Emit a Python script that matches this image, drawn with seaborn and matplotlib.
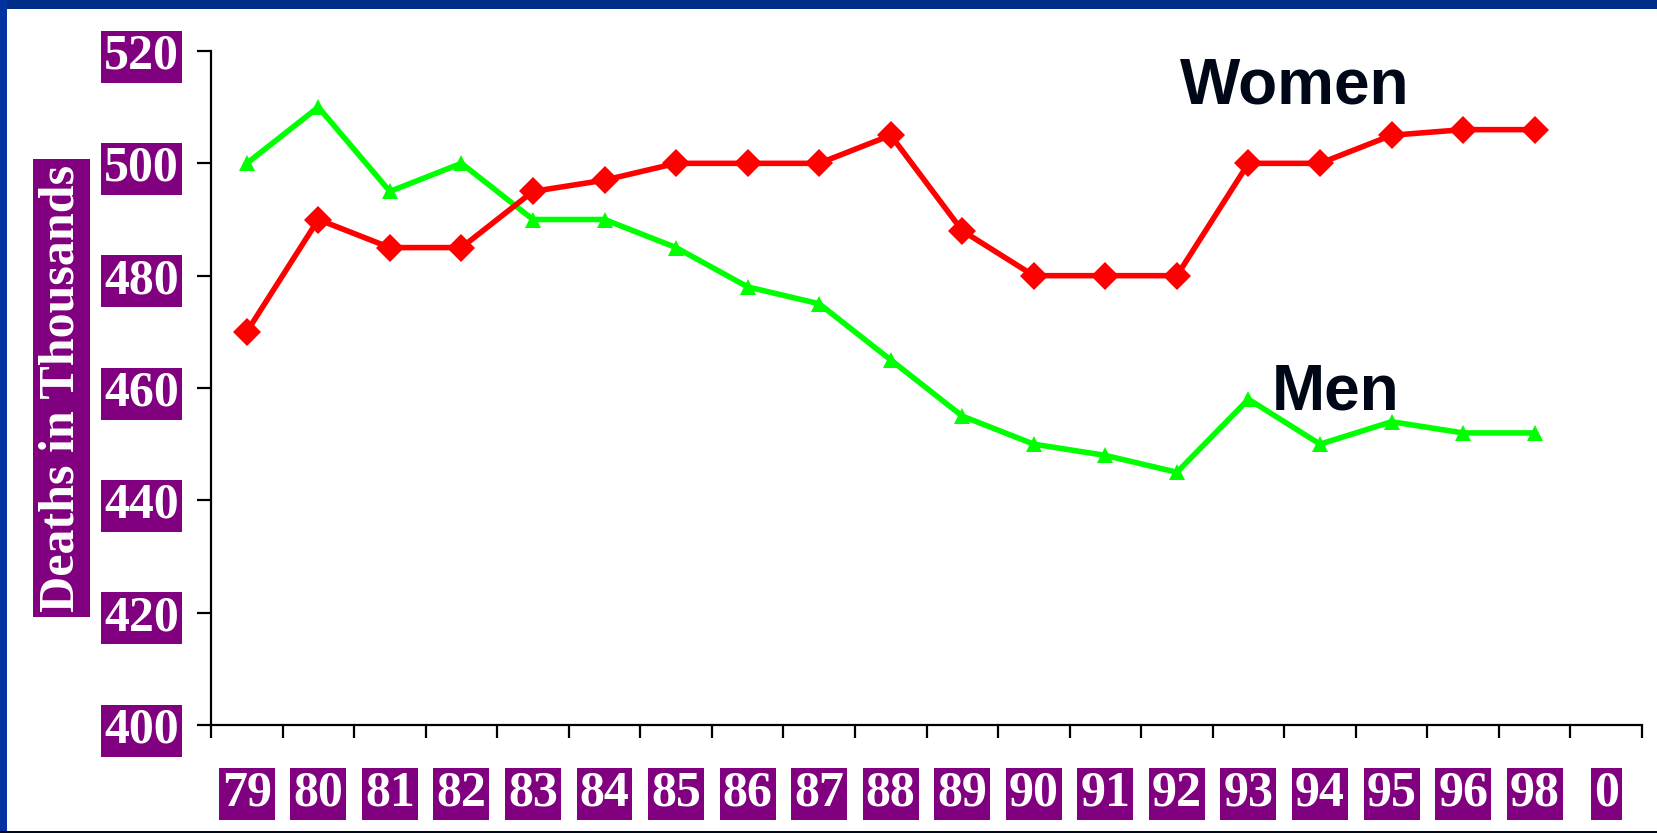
import matplotlib
matplotlib.use('Agg')
import matplotlib.pyplot as plt
import seaborn as sns
import pandas as pd
from matplotlib.patches import Rectangle

# data (deaths in thousands)
years = ['79', '80', '81', '82', '83', '84', '85', '86', '87', '88',
         '89', '90', '91', '92', '93', '94', '95', '96', '98', '0']
women = [470, 490, 485, 485, 495, 497, 500, 500, 500, 505,
         488, 480, 480, 480, 500, 500, 505, 506, 506]
men = [500, 510, 495, 500, 490, 490, 485, 478, 475, 465,
       455, 450, 448, 445, 458, 450, 454, 452, 452]

df_w = pd.DataFrame({'pos': range(len(women)), 'deaths': women})
df_m = pd.DataFrame({'pos': range(len(men)), 'deaths': men})

purple = '#800080'
serif = 'Liberation Serif'

sns.set_style('white')
fig = plt.figure(figsize=(16.57, 8.33), dpi=100)
ax = fig.add_axes([211/1657, 1 - 725/833, (1642 - 211)/1657, (725 - 51)/833])

sns.lineplot(data=df_m, x='pos', y='deaths', ax=ax, color='#00FF00', lw=4,
             marker='^', markersize=12, markeredgewidth=0)
sns.lineplot(data=df_w, x='pos', y='deaths', ax=ax, color='#FF0000', lw=4,
             marker='D', markersize=14, markeredgewidth=0)

ax.set_xlim(-0.5, len(years) - 0.5)
ax.set_ylim(400, 520)
ax.set_yticks(range(400, 521, 20))

# category labels at centres, tick marks at boundaries
ax.set_xticks(range(len(years)))
ax.set_xticklabels(years)
ax.set_xticks([i - 0.5 for i in range(len(years) + 1)], minor=True)
ax.tick_params(axis='x', which='major', length=0, bottom=False, pad=33)
ax.tick_params(axis='x', which='minor', bottom=True, length=9.5, width=1.6,
               color='black', direction='out')
ax.tick_params(axis='y', left=True, length=10, width=1.6, color='black',
               direction='out', pad=13)
ax.tick_params(axis='both', which='major', labelsize=36, labelcolor='white')

for lab in ax.get_xticklabels() + ax.get_yticklabels():
    lab.set_fontfamily(serif)
    lab.set_fontweight('bold')
    lab.set_bbox(dict(facecolor=purple, edgecolor='none', pad=2))

ax.set_xlabel('')
ax.set_ylabel('Deaths in Thousands', fontsize=36, fontfamily=serif, fontweight='bold',
              color='white', labelpad=14,
              bbox=dict(facecolor=purple, edgecolor='none', pad=4))

sns.despine(ax=ax)
for side in ['left', 'bottom']:
    ax.spines[side].set_color('black')
    ax.spines[side].set_linewidth(1.6)

ax.text(14.64, 510.7, 'Women', fontsize=46, fontweight='bold', fontfamily='Liberation Sans',
        color='#000818', ha='center', va='baseline')
ax.text(15.22, 456.1, 'Men', fontsize=46, fontweight='bold', fontfamily='Liberation Sans',
        color='#000818', ha='center', va='baseline')

# slide frame
fig.patches.append(Rectangle((0, 1 - 9/833), 1, 9/833, transform=fig.transFigure,
                             facecolor='#002D86', edgecolor='none', zorder=10))
fig.patches.append(Rectangle((0, 0), 7/1657, 1, transform=fig.transFigure,
                             facecolor='#0033A0', edgecolor='none', zorder=10))
fig.patches.append(Rectangle((0, 0), 1, 2/833, transform=fig.transFigure,
                             facecolor='#000818', edgecolor='none', zorder=10))

fig.savefig('out.png', dpi=100)
